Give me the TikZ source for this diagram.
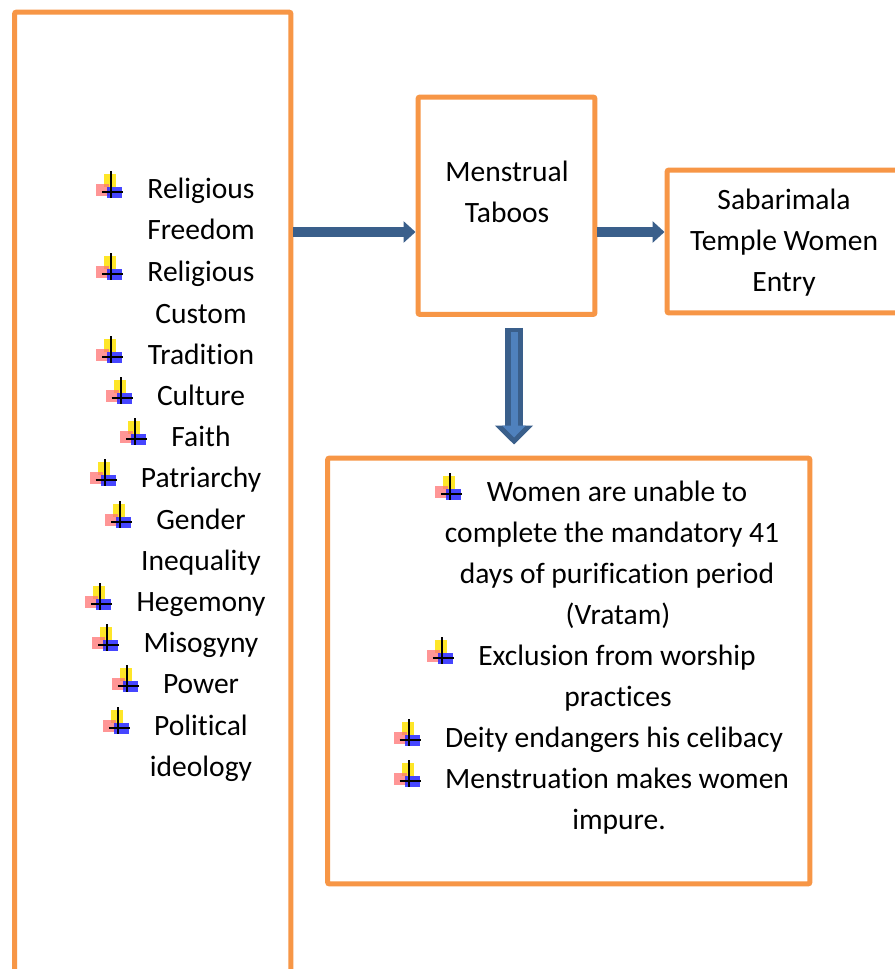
\documentclass[tikz,border=0pt]{standalone}
\usepackage{fontspec}
\setmainfont[Ligatures=NoCommon]{Carlito}
\usetikzlibrary{arrows.meta,calc}

\definecolor{boxorange}{HTML}{F79646}
\definecolor{arrowblue}{HTML}{3A5F8B}
\definecolor{innerblue}{HTML}{4F81BD}

\tikzset{bul/.pic={
\fill[yellow!85!orange, opacity=.85] (-7,-18) rectangle (5,-5);
\fill[red!55, opacity=.75] (-15,-8) rectangle (-2,4);
\fill[blue!85, opacity=.85] (-4,-5) rectangle (11,6);
\draw[black, line width=0.04cm] (0,-21) -- (0,6) (-9,0) -- (12,0);
}}

\begin{document}
\begin{tikzpicture}[x=0.02cm, y=-0.02cm,
box/.style ={draw=boxorange, line width=0.1cm, rounded corners=0.04cm, rectangle, inner sep=0},
txt/.style ={inner sep=0, anchor=base, font=\fontsize{16.8}{20}\selectfont},
harrow/.style ={draw=arrowblue, line width=0.2cm, -{Triangle[length=0.24cm 0, width=0.42cm 0]}}]

\path[use as bounding box, fill=white] (0,0) rectangle (894,969);

\node[box, minimum width=5.53cm, minimum height=19.76cm] (lb) at (152.75,506) {};
\node[box, minimum width=3.54cm, minimum height=4.35cm] (mt) at (506.5,205.75) {};
\node[box, minimum width=5.26cm, minimum height=2.86cm] (st) at (798.5,241.5) {};
\node[box, minimum width=9.65cm, minimum height=8.52cm] (bb) at (568.75,671) {};

\coordinate (r1) at (0,232);
\coordinate (dn) at (514,0);
\draw[harrow] (lb.east |- r1) -- (mt.west |- r1);
\draw[harrow] (mt.east |- r1) -- (st.west |- r1);
\draw[draw=arrowblue, line width=0.36cm, -{Triangle[length=0.38cm 0, width=0.74cm 0]}]
  ($(dn |- mt.south)+(0,11)$) -- ($(dn |- bb.north)+(0,-11)$);
\draw[draw=innerblue, line width=0.14cm, -{Triangle[length=0.24cm 0, width=0.46cm 0]}]
  ($(dn |- mt.south)+(0,15)$) -- ($(dn |- bb.north)+(0,-18)$);

% left box
\node[txt] (rel1) at (201,199) {Religious};
\node[txt] (rel2) at (201,240) {Freedom};
\node[txt] (cus1) at (201,281) {Religious};
\node[txt] (cus2) at (201,323) {Custom};
\node[txt] (tra) at (201,364) {Tradition};
\node[txt] (cul) at (201,405) {Culture};
\node[txt] (fai) at (201,446) {Faith};
\node[txt] (pat) at (201,487) {Patriarchy};
\node[txt] (gen1) at (201,529) {Gender};
\node[txt] (gen2) at (201,570) {Inequality};
\node[txt] (heg) at (201,611) {Hegemony};
\node[txt] (mis) at (201,652) {Misogyny};
\node[txt] (pow) at (201,693) {Power};
\node[txt] (pol1) at (201,735) {Political};
\node[txt] (pol2) at (201,776) {ideology};

% middle and right boxes
\node[txt] (mt1) at (507,182) {Menstrual};
\node[txt] (mt2) at (507,223) {Taboos};
\node[txt] (st1) at (784,210) {Sabarimala};
\node[txt] (st2) at (784,251) {Temple Women};
\node[txt] (st3) at (784,292) {Entry};

% bottom box
\node[txt] (wo1) at (617,501) {Women are unable to};
\node[txt] (wo2) at (612,542) {complete the mandatory 41};
\node[txt] (wo3) at (617,583) {days of purification period};
\node[txt] (wo4) at (618,624) {(Vratam)};
\node[txt] (ex1) at (617,665) {Exclusion from worship};
\node[txt] (ex2) at (618,706) {practices};
\node[txt] (dei) at (614,747) {Deity endangers his celibacy};
\node[txt] (me1) at (617,788) {Menstruation makes women};
\node[txt] (me2) at (619,829) {impure.};

\pic at ([shift={(-0.72cm,0.14cm)}]rel1.base west) {bul};
\pic at ([shift={(-0.72cm,0.14cm)}]cus1.base west) {bul};
\pic at ([shift={(-0.72cm,0.14cm)}]tra.base west) {bul};
\pic at ([shift={(-0.72cm,0.14cm)}]cul.base west) {bul};
\pic at ([shift={(-0.72cm,0.14cm)}]fai.base west) {bul};
\pic at ([shift={(-0.72cm,0.14cm)}]pat.base west) {bul};
\pic at ([shift={(-0.72cm,0.14cm)}]gen1.base west) {bul};
\pic at ([shift={(-0.72cm,0.14cm)}]heg.base west) {bul};
\pic at ([shift={(-0.72cm,0.14cm)}]mis.base west) {bul};
\pic at ([shift={(-0.72cm,0.14cm)}]pow.base west) {bul};
\pic at ([shift={(-0.72cm,0.14cm)}]pol1.base west) {bul};
\pic at ([shift={(-0.72cm,0.14cm)}]wo1.base west) {bul};
\pic at ([shift={(-0.72cm,0.14cm)}]ex1.base west) {bul};
\pic at ([shift={(-0.72cm,0.14cm)}]dei.base west) {bul};
\pic at ([shift={(-0.72cm,0.14cm)}]me1.base west) {bul};

\end{tikzpicture}
\end{document}
